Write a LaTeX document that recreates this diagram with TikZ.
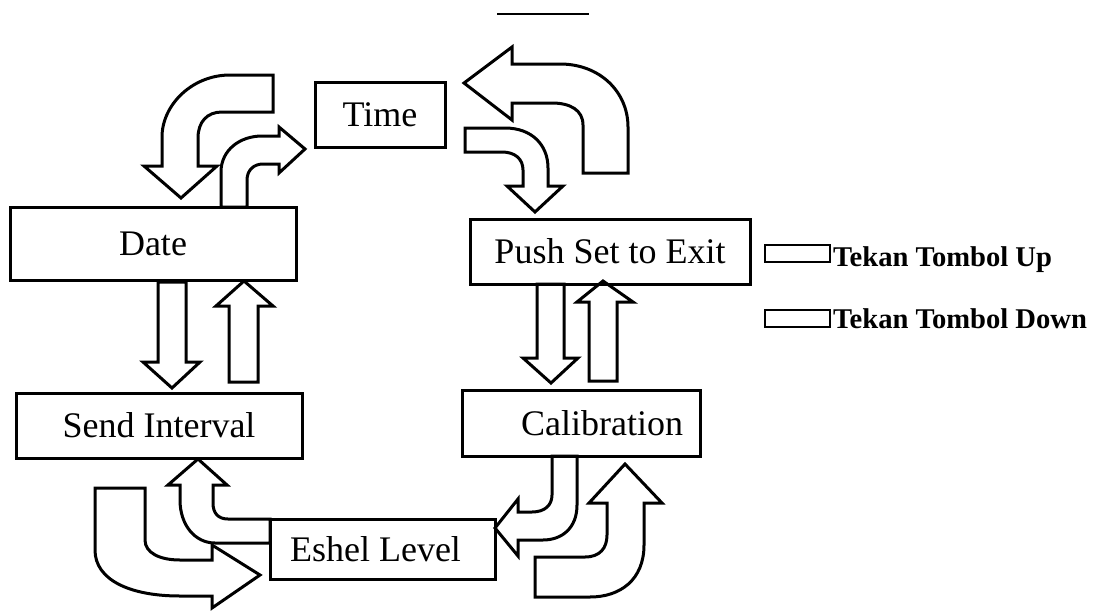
\documentclass[tikz,border=0pt]{standalone}
\usepackage{fontspec}
\setmainfont{Liberation Serif}
\begin{document}
\begin{tikzpicture}[x=1pt,y=-1pt,
  box/.style={draw, line width=3pt, rectangle, inner sep=0pt,
    font=\fontsize{36}{40}\selectfont},
  blk/.style={draw, fill=white, line width=3pt, line join=miter},
  legbox/.style={draw, line width=2.5pt, rectangle, inner sep=0pt,
    minimum width=65pt, minimum height=17pt},
  legtxt/.style={font=\bfseries\fontsize{28.6}{32}\selectfont,
    anchor=base west, inner sep=0pt}]
\useasboundingbox (0,0) rectangle (1099,610);

% short rule at the top
\coordinate (ruleL) at (497,14);
\coordinate (ruleR) at (589,14);
\draw[line width=2.8pt] (ruleL) -- (ruleR);

% block arrows: top left (Time -> Date, Date -> Time)
\draw[blk] (273,75) -- (230,75) .. controls (192,75) and (162,105) .. (162,137)
  -- (162,166) -- (144,166) -- (181,198) -- (217,166) -- (198,166) -- (198,138)
  .. controls (198,122) and (207,112) .. (222,112) -- (273,112) -- cycle;
\draw[blk] (221,207) -- (221,172) .. controls (221,150) and (240,136) .. (262,136)
  -- (279,136) -- (279,127) -- (305,149) -- (279,173) -- (279,164) -- (263,164)
  .. controls (254,164) and (247,170) .. (247,180) -- (247,207) -- cycle;

% top right (Push Set to Exit -> Time, Time -> Push Set to Exit)
\draw[blk] (583,173) -- (583,125) .. controls (583,110) and (570,103) .. (552,103)
  -- (512,103) -- (512,120) -- (464,83) -- (512,47) -- (512,64) -- (560,64)
  .. controls (600,64) and (628,92) .. (628,127) -- (628,173) -- cycle;
\draw[blk] (465,128) -- (505,128) .. controls (532,128) and (548,145) .. (548,168)
  -- (548,186) -- (563,186) -- (535,212) -- (507,186) -- (523,186) -- (523,170)
  .. controls (523,159) and (515,152) .. (502,152) -- (465,152) -- cycle;

% straight pairs
\draw[blk] (158,282) -- (158,362) -- (143,362) -- (172,388) -- (200,362)
  -- (186,362) -- (186,282) -- cycle;
\draw[blk] (229,382) -- (229,306) -- (216,306) -- (244,281) -- (273,306)
  -- (258,306) -- (258,382) -- cycle;
\draw[blk] (537,284) -- (537,358) -- (523,358) -- (551,383) -- (578,358)
  -- (564,358) -- (564,284) -- cycle;
\draw[blk] (589,381) -- (589,302) -- (577,302) -- (603,281) -- (633,302)
  -- (617,302) -- (617,381) -- cycle;

% bottom left (Eshel Level -> Send Interval, Send Interval -> Eshel Level)
\draw[blk] (270,519) -- (228,519) .. controls (218,519) and (213,513) .. (213,503)
  -- (213,485) -- (227,485) -- (198,459) -- (168,485) -- (180,485) -- (180,500)
  .. controls (180,525) and (195,543) .. (215,543) -- (270,543) -- cycle;
\draw[blk] (95,488) -- (145,488) -- (145,540) .. controls (145,553) and (160,560) .. (180,560)
  -- (212,560) -- (212,545) -- (260,575) -- (212,608) -- (212,596) -- (180,596)
  .. controls (130,596) and (95,580) .. (95,550) -- cycle;

% bottom right (Calibration -> Eshel Level, Eshel Level -> Calibration)
\draw[blk] (577,456) -- (577,505) .. controls (577,528) and (562,540) .. (543,540)
  -- (518,540) -- (518,556) -- (495,528) -- (518,499) -- (518,512) -- (532,512)
  .. controls (545,512) and (552,505) .. (552,495) -- (552,456) -- cycle;
\draw[blk] (535,557) -- (585,557) .. controls (600,557) and (607,548) .. (607,535)
  -- (607,503) -- (589,503) -- (625,464) -- (662,503) -- (644,503) -- (644,545)
  .. controls (644,580) and (620,597) .. (590,597) -- (535,597) -- cycle;

% menu boxes
\node[box, minimum width=130pt, minimum height=65pt] (time) at (380,114.5) {Time};
\node[box, minimum width=286pt, minimum height=73pt] (date) at (153,243.5) {Date};
\node[box, minimum width=286pt, minimum height=65pt] (send) at (159,425.5) {Send Interval};
\node[box, minimum width=280pt, minimum height=65pt] (push) at (610,251.5) {Push Set to Exit};
\node[box, minimum width=238pt, minimum height=66pt] (cal) at (581,423) {\hspace*{42pt}Calibration};
\node[box, minimum width=225pt, minimum height=60pt] (eshel) at (382.5,549) {Eshel Level\hspace*{14pt}};

% legend
\node[legbox] (legup) at (797.5,253.5) {};
\node[legtxt] (legupt) at (833,266) {Tekan Tombol Up};
\node[legbox] (legdn) at (797.5,318.5) {};
\node[legtxt] (legdnt) at (833,328) {Tekan Tombol Down};
\end{tikzpicture}
\end{document}
